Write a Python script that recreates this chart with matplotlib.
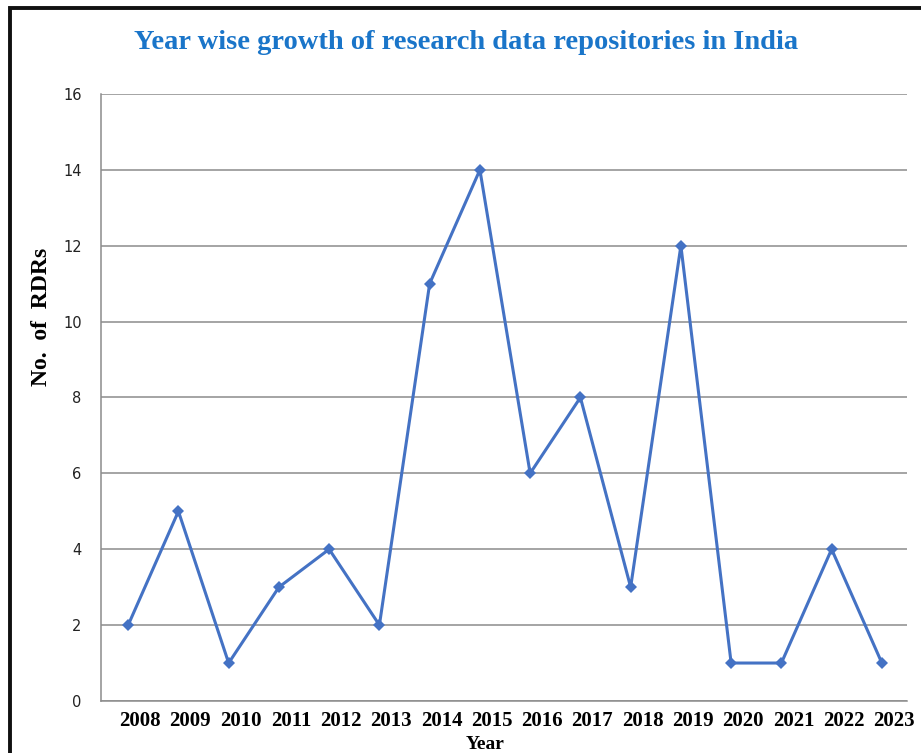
import matplotlib.pyplot as plt
from matplotlib.patches import Rectangle
import matplotlib.transforms as mtransforms

years = ['2008', '2009', '2010', '2011', '2012', '2013', '2014', '2015',
         '2016', '2017', '2018', '2019', '2020', '2021', '2022', '2023']
rdrs = [2, 5, 1, 3, 4, 2, 11, 14, 6, 8, 3, 12, 1, 1, 4, 1]
yticks = [0, 2, 4, 6, 8, 10, 12, 14, 16]

serif = ['Liberation Serif', 'DejaVu Serif']

fig = plt.figure(figsize=(9.21, 7.53), dpi=100)
ax = fig.add_axes([0.1097, 0.0691, 0.8751, 0.8061])

x = list(range(len(years)))
ax.plot(x, rdrs, color='#4472C4', lw=2.2, marker='D', markersize=6,
        markeredgewidth=0)

ax.set_xlim(-0.54, 15.5)
ax.set_ylim(0, 16)
ax.set_yticks(yticks)
ax.yaxis.grid(True, color='#8c8c8c', lw=1.1)
ax.set_axisbelow(True)
for s in ['top', 'right']:
    ax.spines[s].set_visible(False)
for s in ['left', 'bottom']:
    ax.spines[s].set_color('#8c8c8c')
    ax.spines[s].set_linewidth(1.1)

ax.tick_params(axis='y', length=0, pad=14, labelsize=10.5, labelcolor='#222222')
ax.set_xticks(x)
ax.set_xticklabels(years, fontfamily=serif, fontweight='bold', fontsize=15)
ax.tick_params(axis='x', length=0, pad=7)
# labels sit a little right of the points, as in the original
offset = mtransforms.ScaledTranslation(12 / 100, 0, fig.dpi_scale_trans)
for lab in ax.get_xticklabels():
    lab.set_transform(lab.get_transform() + offset)

ax.set_ylabel('No.  of  RDRs', fontfamily=serif, fontweight='bold',
              fontsize=17)
ax.yaxis.set_label_coords(-0.061, 0.632, transform=ax.transAxes)
ax.set_xlabel('Year', fontfamily=serif, fontweight='bold', fontsize=14)
ax.xaxis.set_label_coords(0.477, -0.058, transform=ax.transAxes)

fig.text(0.506, 0.944, 'Year wise growth of research data repositories in India',
         ha='center', va='center', color='#1a75c9', fontfamily=serif,
         fontweight='bold', fontsize=20.5)

fig.add_artist(Rectangle((9.5 / 921, -0.1), 1.0, 1.1 - 8 / 753, fill=False,
                         lw=2.8, edgecolor='#111111', transform=fig.transFigure))

fig.savefig('out.png', dpi=100)
